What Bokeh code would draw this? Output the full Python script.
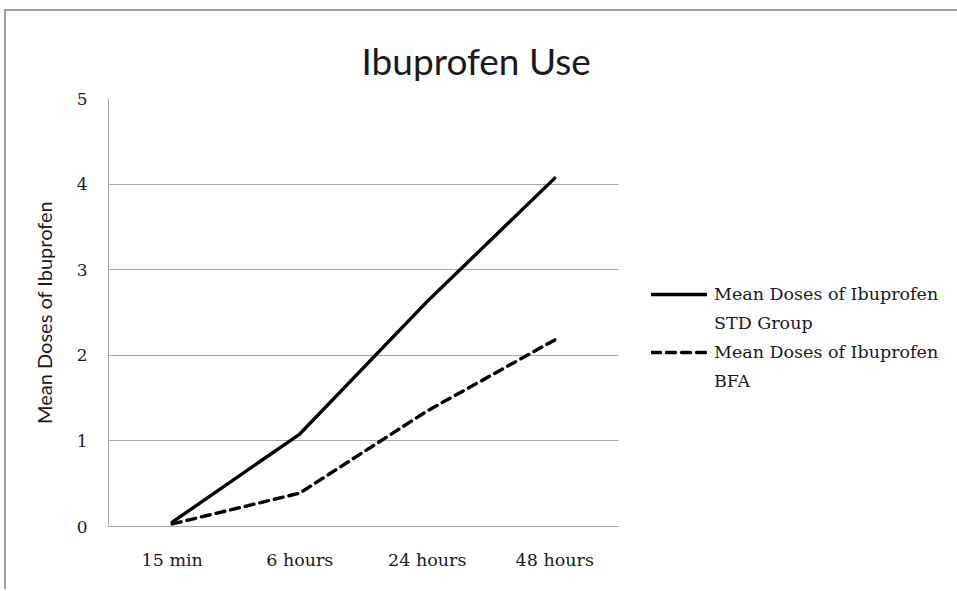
from bokeh.plotting import figure
from bokeh.models import Legend, LegendItem, FactorRange, Range1d, FixedTicker, Title
from bokeh.embed import file_html
from bokeh.resources import INLINE

categories = ["15 min", "6 hours", "24 hours", "48 hours"]
std_group = [0.05, 1.08, 2.63, 4.07]
bfa_group = [0.03, 0.39, 1.35, 2.18]
y_ticks = [0, 1, 2, 3, 4, 5]
series_label = "Mean Doses of Ibuprofen"
series_suffix = ["STD Group", "BFA"]
title_text = "Ibuprofen Use"

SERIF = "DejaVu Serif"
SANS = "Lato"
GRID = "#a6a6a6"
TXT = "#1a1a1a"

p = figure(
    x_range=FactorRange(*categories, range_padding=0),
    y_range=Range1d(0, 5),
    frame_width=510, frame_height=428,
    output_backend="svg", toolbar_location=None,
    min_border_left=102, min_border_top=87, min_border_bottom=63, min_border_right=338,
)
p.styles = {"margin-top": "9px", "margin-left": "4px",
            "border-top": "2px solid #a0a0a0", "border-left": "2px solid #a0a0a0"}

r1 = p.line(categories, std_group, line_color="black", line_width=3.4, line_join="round", line_cap="round")
r2 = p.line(categories, bfa_group, line_color="black", line_width=3.4, line_dash="9 6", line_join="round", line_cap="round")
# empty, invisible renderers used only to hold the second text line of each legend entry
blank1 = p.line(x=[], y=[], line_alpha=0)
blank2 = p.line(x=[], y=[], line_alpha=0)

legend = Legend(items=[LegendItem(label=series_label, renderers=[r1]),
                       LegendItem(label=series_suffix[0], renderers=[blank1]),
                       LegendItem(label=series_label, renderers=[r2]),
                       LegendItem(label=series_suffix[1], renderers=[blank2])],
                location=(33, 135), border_line_color=None, background_fill_alpha=0,
                label_text_font=SERIF, label_text_font_size="17.5px", label_text_color=TXT,
                glyph_width=56, glyph_height=20, label_height=20, label_standoff=7,
                spacing=9, margin=0, padding=8)
p.add_layout(legend, "right")

p.title = Title(text=title_text, align="left", vertical_align="middle", offset=253, standoff=30,
                text_font=SANS, text_font_size="37px", text_font_style="normal", text_color=TXT)

p.xgrid.grid_line_color = None
p.ygrid.grid_line_color = GRID
p.ygrid.grid_line_width = 1
p.outline_line_color = None

p.yaxis.ticker = FixedTicker(ticks=y_ticks)
p.yaxis.axis_line_color = GRID
p.yaxis.major_tick_line_color = None
p.yaxis.major_tick_out = 0
p.yaxis.major_tick_in = 0
p.yaxis.minor_tick_line_color = None
p.yaxis.major_label_standoff = 21
p.yaxis.major_label_text_font = SERIF
p.yaxis.major_label_text_font_size = "17px"
p.yaxis.major_label_text_color = TXT
p.yaxis.axis_label = "Mean Doses of Ibuprofen"
p.yaxis.axis_label_text_font = SANS
p.yaxis.axis_label_text_font_size = "20px"
p.yaxis.axis_label_text_font_style = "normal"
p.yaxis.axis_label_text_color = TXT
p.yaxis.axis_label_standoff = 18

p.xaxis.axis_line_color = GRID
p.xaxis.major_tick_line_color = None
p.xaxis.major_tick_out = 0
p.xaxis.major_tick_in = 0
p.xaxis.minor_tick_line_color = None
p.xaxis.major_label_standoff = 23
p.xaxis.major_label_text_font = SERIF
p.xaxis.major_label_text_font_size = "17.5px"
p.xaxis.major_label_text_color = TXT

open("out.html", "w").write(file_html(p, INLINE))
